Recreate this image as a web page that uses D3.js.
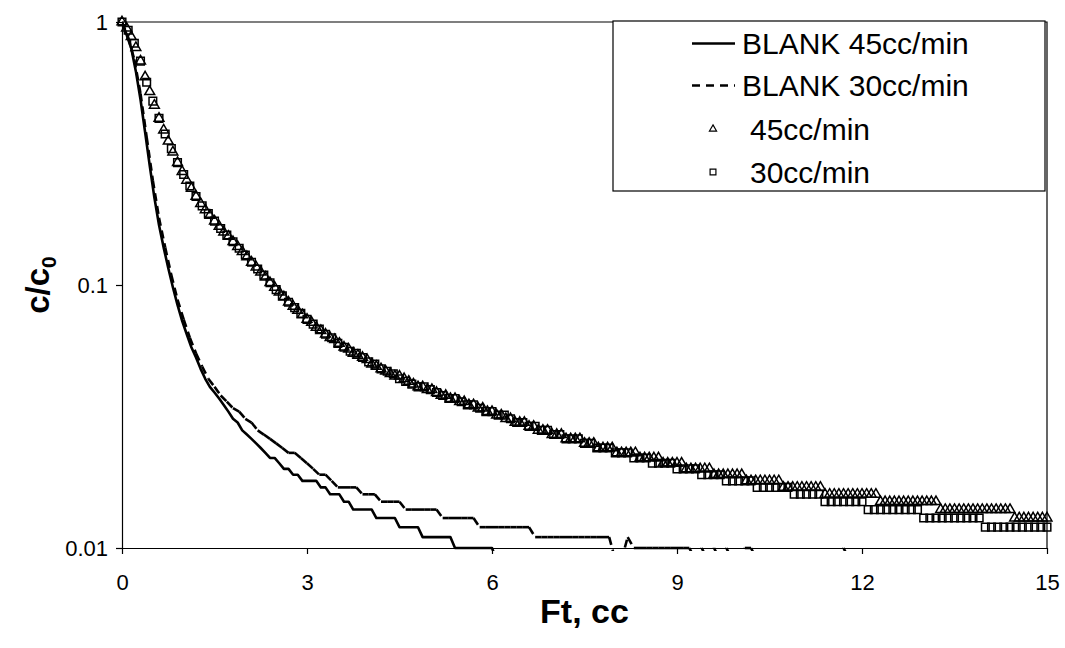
<!DOCTYPE html>
<html><head><meta charset="utf-8">
<script src="https://cdn.jsdelivr.net/npm/d3@7"></script>
<style>
body{margin:0;background:#fff}
svg{display:block}
text{font-family:"Liberation Sans",Arial,Helvetica,sans-serif;fill:#000}
</style>
</head><body>
<svg id="chart" width="1065" height="648"></svg>
<script>
// Ft sampling interval of each run (cc per recorded sample)
const ftStep45 = 0.075;
const ftStep30 = 0.1;

// c/c0, BLANK run at 45 cc/min (one value per 0.075 cc)
const blank45 = [
1.000,0.894,0.795,0.649,0.507,0.381,0.284,0.215,0.169,0.139,0.116,0.098,0.084,
0.073,0.065,0.058,0.053,0.048,0.044,0.041,0.039,0.037,0.035,0.033,0.031,0.030,0.028,0.027,
0.026,0.025,0.024,0.023,0.022,0.022,0.021,0.020,0.020,0.019,0.019,0.018,0.018,
0.018,0.018,0.017,0.017,0.016,0.016,0.016,0.015,0.015,0.014,0.014,0.014,0.014,0.014,
0.013,0.013,0.013,0.013,0.013,0.012,0.012,0.012,0.012,0.012,
0.011,0.011,0.011,0.011,0.011,0.011,0.011,
0.010,0.010,0.010,0.010,0.010,0.010,0.010,0.010,0.010,
0.009,0.009,0.009,0.009,0.009,0.009,0.009,0.009,0.009,0.009,0.009,0.009,0.009,0.009,0.009,0.009,0.009,0.009,0.009,0.009,
0.009,0.009,0.009,0.009,0.009,0.009,0.009,0.009,0.009,0.009,0.009,0.009,0.009,0.009,0.009,0.009,0.009,0.009,0.009,0.009,
0.009,0.009,0.009,0.009,0.009,0.009,0.009,0.009,0.009,0.009,0.009,0.009,0.009,0.009,0.009,0.009,0.009,0.009,0.009,0.009,
0.009,0.009,0.009,0.009,0.009,0.009,0.009,0.009,0.009,0.009,0.009,0.009,0.009,0.009,0.009,0.009,0.009,0.009,0.009,0.009,
0.009,0.009,0.009,0.009,0.009,0.009,0.009,0.009,0.009,0.009,0.009,0.009,0.009,0.009,0.009,0.009,0.009,0.009,0.009,0.009,
0.009,0.009,0.009,0.009,0.009,0.009,0.009,0.009,0.009,0.009,0.009,0.009,0.009,0.009,0.009,0.009,0.009,0.009,0.009,0.009
];

// c/c0, BLANK run at 30 cc/min (one value per 0.1 cc)
const blank30 = [
1.000,0.875,0.720,0.535,0.365,0.250,0.180,0.139,0.109,0.088,
0.074,0.063,0.055,0.049,0.044,0.041,0.038,0.036,0.034,0.033,
0.031,0.030,0.028,0.027,0.026,0.025,0.024,0.023,0.023,0.022,
0.021,0.020,0.019,0.019,0.018,0.017,0.017,0.017,0.017,0.016,
0.016,0.016,0.015,0.015,0.015,0.015,0.014,0.014,0.014,0.014,
0.014,0.014,0.013,0.013,0.013,0.013,0.013,0.013,0.012,0.012,
0.012,0.012,0.012,0.012,0.012,0.012,0.012,0.011,0.011,0.011,
0.011,0.011,0.011,0.011,0.011,0.011,0.011,0.011,0.011,0.011,
0.009,0.009,0.011,0.010,0.010,0.010,0.010,0.010,0.010,0.010,
0.010,0.010,0.010,0.009,0.010,0.009,0.010,0.009,0.010,0.009,
0.009,0.010,0.010,0.009,0.009,0.009,0.009,0.009,0.009,0.009,
0.009,0.009,0.009,0.009,0.009,0.009,0.009,0.010,0.009,0.009,
0.009,0.009,0.009,0.009,0.009,0.009,0.009,0.009,0.009,0.009,
0.009,0.009,0.009,0.009,0.009,0.009,0.009,0.009,0.009,0.009,
0.009,0.009,0.009,0.009,0.009,0.009,0.009,0.009,0.009,0.009,
0.009
];

// c/c0, packed run at 45 cc/min (triangles, one value per 0.075 cc)
const run45 = [
1.000,0.947,0.879,0.799,0.710,0.618,0.543,0.482,0.430,0.388,0.352,0.320,0.292,
0.270,0.250,0.233,0.217,0.204,0.193,0.184,0.175,0.167,0.159,0.153,0.146,0.140,0.134,0.128,
0.122,0.117,0.112,0.107,0.102,0.098,0.094,0.090,0.086,0.083,0.080,0.077,0.074,
0.072,0.069,0.067,0.065,0.063,0.062,0.060,0.058,0.057,0.055,0.054,0.053,0.052,
0.050,0.049,0.048,0.047,0.046,0.045,0.045,0.044,0.043,0.042,0.041,0.041,0.040,
0.040,0.039,0.038,0.038,0.037,0.037,0.036,0.036,0.035,0.035,0.034,0.034,0.033,0.033,
0.032,0.032,0.031,0.031,0.030,0.030,0.030,0.029,0.029,0.028,0.028,0.028,0.027,
0.027,0.027,0.026,0.026,0.026,0.026,0.025,0.025,0.025,0.024,0.024,0.024,0.024,
0.023,0.023,0.023,0.023,0.023,0.022,0.022,0.022,0.022,0.022,0.021,0.021,0.021,0.021,
0.021,0.020,0.020,0.020,0.020,0.020,0.020,0.019,0.019,0.019,0.019,0.019,0.019,
0.019,0.018,0.018,0.018,0.018,0.018,0.018,0.018,0.018,0.017,0.017,0.017,0.017,
0.017,0.017,0.017,0.017,0.017,
0.016,0.016,0.016,0.016,0.016,0.016,0.016,0.016,0.016,0.016,0.016,0.016,
0.015,0.015,0.015,0.015,0.015,0.015,0.015,0.015,0.015,0.015,0.015,0.015,0.015,
0.014,0.014,0.014,0.014,0.014,0.014,0.014,0.014,0.014,0.014,0.014,0.014,0.014,0.014,0.014,0.014,
0.013,0.013,0.013,0.013,0.013,0.013,0.013,0.013
];

// c/c0, packed run at 30 cc/min (squares, one value per 0.1 cc)
const run30 = [
1.000,0.930,0.830,0.710,0.590,0.500,0.430,0.375,0.330,0.292,
0.263,0.238,0.217,0.200,0.187,0.175,0.164,0.155,0.146,0.138,
0.130,0.122,0.115,0.109,0.102,0.096,0.091,0.086,0.082,0.078,
0.074,0.071,0.068,0.065,0.063,0.060,0.058,0.056,0.055,0.053,
0.051,0.050,0.048,0.047,0.046,0.044,0.043,0.042,0.041,0.041,
0.040,0.039,0.038,0.037,0.037,0.036,0.035,0.035,0.034,0.033,
0.033,0.032,0.032,0.031,0.030,0.030,0.029,0.029,0.028,0.028,
0.027,0.027,0.026,0.026,0.026,0.025,0.025,0.024,0.024,0.024,
0.023,0.023,0.023,0.022,0.022,0.022,0.021,0.021,0.021,0.021,
0.020,0.020,0.020,0.020,0.019,0.019,0.019,0.019,0.018,0.018,
0.018,0.018,0.018,0.017,0.017,0.017,0.017,0.017,0.017,0.016,
0.016,0.016,0.016,0.016,0.015,0.015,0.015,0.015,0.015,0.015,
0.015,0.014,0.014,0.014,0.014,0.014,0.014,0.014,0.014,0.014,
0.013,0.013,0.013,0.013,0.013,0.013,0.013,0.013,0.013,0.013,
0.012,0.012,0.012,0.012,0.012,0.012,0.012,0.012,0.012,0.012,
0.012
];

const xTicks = [0, 3, 6, 9, 12, 15];
const xTickLabels = ["0", "3", "6", "9", "12", "15"];
const yTicks = [0.01, 0.1, 1];
const yTickLabels = ["0.01", "0.1", "1"];
const seriesNames = ["BLANK 45cc/min", "BLANK 30cc/min", "45cc/min", "30cc/min"];
const xTitle = "Ft, cc";

(function () {
const svg = d3.select("#chart");
const pL = 122, pR = 1047, pT = 22, pB = 548;
const x = d3.scaleLinear().domain([0, 15]).range([pL, pR]);
const y = d3.scaleLog().domain([0.01, 1]).range([pB, pT]);

const toPts = (arr, step) => arr.map((v, i) => ({ft: i * step, c: v}));
const ptsB45 = toPts(blank45, ftStep45);
const ptsB30 = toPts(blank30, ftStep30);
const ptsR45 = toPts(run45, ftStep45);
const ptsR30 = toPts(run30, ftStep30);

svg.append("rect").attr("width", 1065).attr("height", 648).attr("fill", "#fff");

svg.append("defs").append("clipPath").attr("id", "plotclip")
  .append("rect").attr("x", pL).attr("y", pT - 3)
  .attr("width", pR - pL).attr("height", pB - pT + 6);

// plot frame (top & right)
svg.append("path")
  .attr("d", `M${pL},${pT}H${pR}V${pB}`)
  .attr("fill", "none").attr("stroke", "#000").attr("stroke-width", 1.2);

const line = d3.line().x(d => x(d.ft)).y(d => y(d.c));
const lines = svg.append("g").attr("clip-path", "url(#plotclip)");

lines.append("path").datum(ptsB45)
  .attr("d", line)
  .attr("fill", "none").attr("stroke", "#000")
  .attr("stroke-width", 2.6).attr("stroke-linejoin", "round");

// dashed series: dash pattern restarts at every data point
lines.append("g").selectAll("path").data(d3.pairs(ptsB30)).join("path")
  .attr("d", d => line(d))
  .attr("fill", "none").attr("stroke", "#000")
  .attr("stroke-width", 2.6).attr("stroke-dasharray", "8,5");

const tri = d3.symbol().type(d3.symbolTriangle).size(42);
const sq = d3.symbol().type(d3.symbolSquare).size(58);

svg.append("g").selectAll("path").data(ptsR45).join("path")
  .attr("d", tri)
  .attr("transform", d => `translate(${x(d.ft)},${y(d.c)})`)
  .attr("fill", "none").attr("stroke", "#000").attr("stroke-width", 1.5);

svg.append("g").selectAll("path").data(ptsR30).join("path")
  .attr("d", sq)
  .attr("transform", d => `translate(${x(d.ft)},${y(d.c)})`)
  .attr("fill", "none").attr("stroke", "#000").attr("stroke-width", 1.5);

// axes
const gx = svg.append("g").attr("transform", `translate(0,${pB})`)
  .call(d3.axisBottom(x).tickValues(xTicks).tickFormat((d, i) => xTickLabels[i])
    .tickSizeInner(6).tickSizeOuter(0).tickPadding(20));
const gy = svg.append("g").attr("transform", `translate(${pL},0)`)
  .call(d3.axisLeft(y).tickValues(yTicks).tickFormat((d, i) => yTickLabels[i])
    .tickSizeInner(6).tickSizeOuter(0).tickPadding(8));
[gx, gy].forEach(g => {
  g.selectAll(".domain").attr("stroke", "#000").attr("stroke-width", 1.2);
  g.selectAll(".tick line").attr("stroke", "#000").attr("stroke-width", 1.2);
  g.selectAll("text").attr("font-size", 22).attr("font-family", "Liberation Sans, Arial, sans-serif").attr("fill", "#000");
});

// axis titles
svg.append("text").attr("x", (pL + pR) / 2).attr("y", 623)
  .attr("text-anchor", "middle").attr("font-size", 34).attr("font-weight", "bold")
  .text(xTitle);
const yt = svg.append("text").attr("transform", "translate(49,285) rotate(-90)")
  .attr("text-anchor", "middle").attr("font-size", 33).attr("font-weight", "bold");
yt.append("tspan").text("c/c");
yt.append("tspan").attr("font-size", 21).attr("dy", 7).text("0");

// legend
const lg = svg.append("g");
lg.append("rect").attr("x", 613).attr("y", 21).attr("width", 432).attr("height", 170)
  .attr("fill", "#fff").attr("stroke", "#000").attr("stroke-width", 1.2);
const rowsY = [43.5, 85.5, 129, 172];
lg.append("line").attr("x1", 692).attr("x2", 735).attr("y1", rowsY[0]).attr("y2", rowsY[0])
  .attr("stroke", "#000").attr("stroke-width", 2.6);
lg.append("line").attr("x1", 692).attr("x2", 735).attr("y1", rowsY[1]).attr("y2", rowsY[1])
  .attr("stroke", "#000").attr("stroke-width", 2.6).attr("stroke-dasharray", "8,6");
lg.append("path").attr("d", d3.symbol().type(d3.symbolTriangle).size(22)).attr("transform", `translate(713,${rowsY[2]})`)
  .attr("fill", "none").attr("stroke", "#000").attr("stroke-width", 1.2);
lg.append("path").attr("d", d3.symbol().type(d3.symbolSquare).size(34)).attr("transform", `translate(713,${rowsY[3]})`)
  .attr("fill", "none").attr("stroke", "#000").attr("stroke-width", 1.2);
const textX = [742, 742, 750, 750];
seriesNames.forEach((s, i) => {
  lg.append("text").attr("x", textX[i]).attr("y", rowsY[i]).attr("dy", "0.36em")
    .attr("font-size", 30).text(s);
});
})();
</script>
</body></html>
